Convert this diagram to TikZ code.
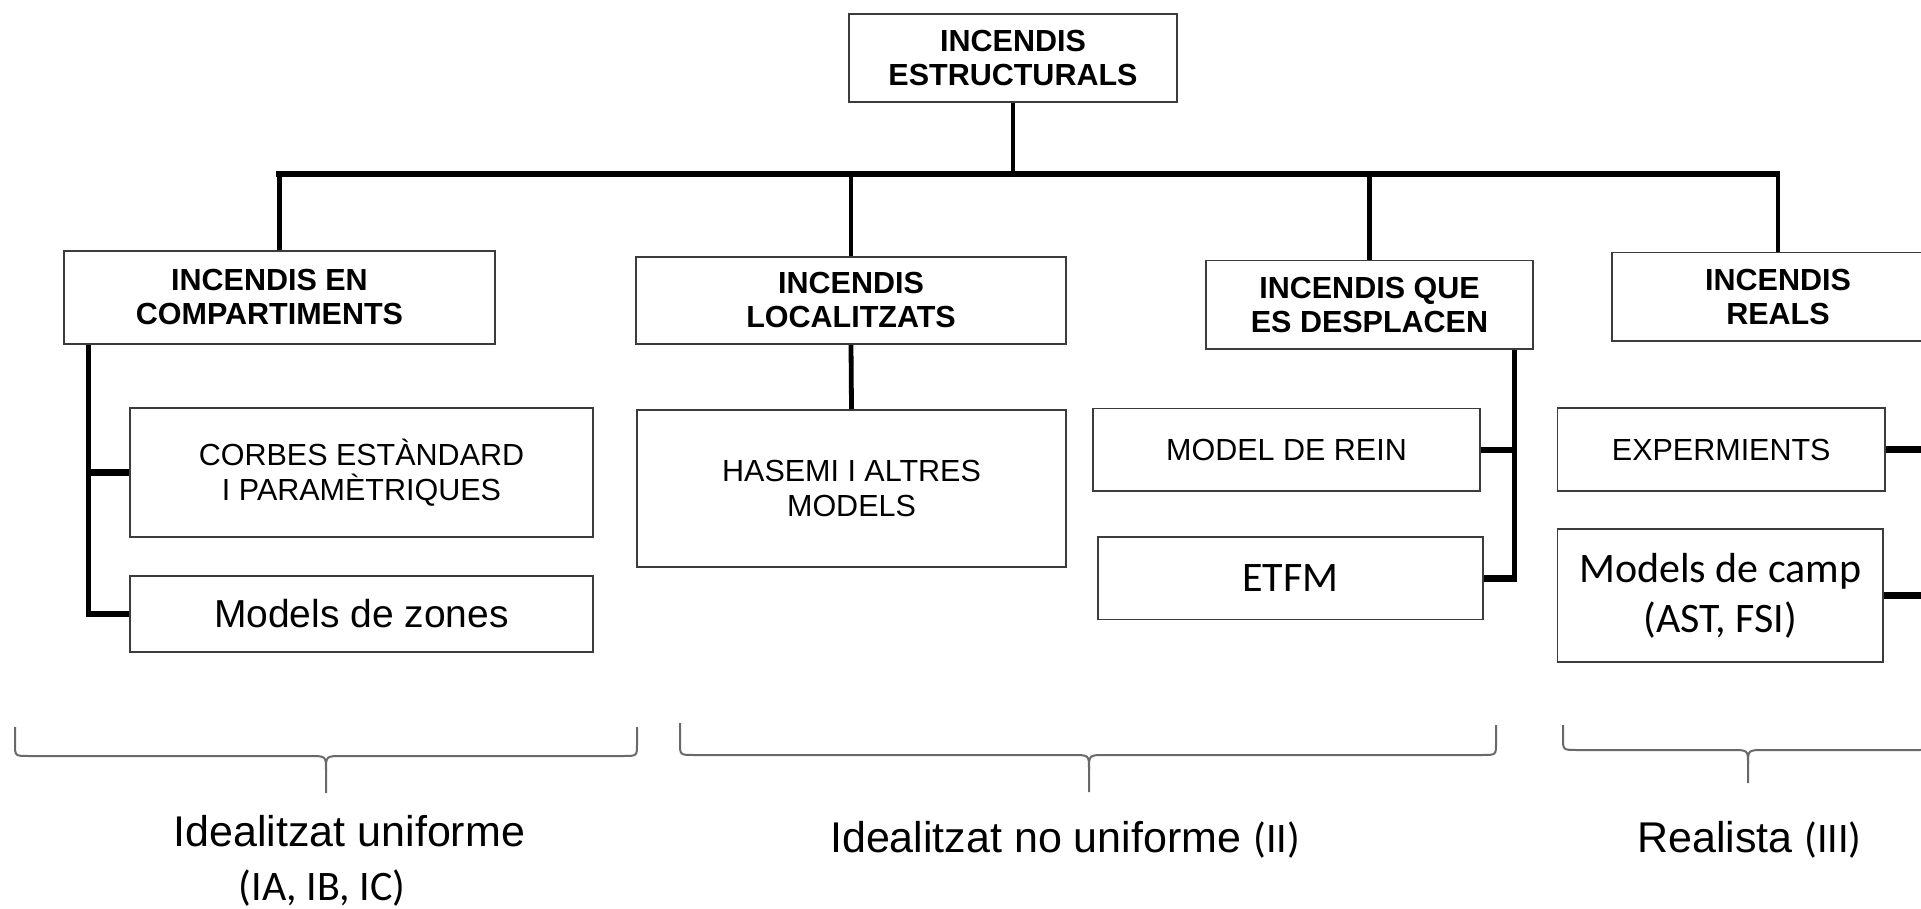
\documentclass[tikz,border=0pt]{standalone}
\usepackage{fontspec}
\setmainfont{Liberation Sans}
\newfontfamily\calfont{Carlito}
\usetikzlibrary{calc}
\definecolor{boxgray}{RGB}{60,60,60}
\definecolor{bracegray}{RGB}{105,105,105}
\begin{document}
\begin{tikzpicture}[x=1pt,y=-1pt,
  box/.style={draw=boxgray, line width=1.6pt, fill=white, inner sep=0pt, align=center},
  hdr/.style={box, font=\fontsize{30.5}{34}\selectfont\bfseries},
  regbox/.style={box, font=\fontsize{30.5}{35}\selectfont},
  calbox/.style={box, font=\fontsize{42}{50}\selectfont\calfont},
  conn/.style={line width=4.8pt},
  branch/.style={line width=6.5pt},
  bracestyle/.style={draw=bracegray, line width=2pt},
  lbl/.style={inner sep=0pt, anchor=base west, font=\fontsize{43}{50}\selectfont}]
\useasboundingbox (0,0) rectangle (1921,909);
\clip (0,0) rectangle (1921,909);

% top level
\node[hdr, minimum width=328pt, minimum height=88pt] (top) at (1013,58) {INCENDIS\\ESTRUCTURALS};

% second level
\node[hdr, minimum width=431pt, minimum height=93pt] (b1) at (279.5,297.5) {INCENDIS EN\hspace*{20pt}\\COMPARTIMENTS\hspace*{20pt}};
\node[hdr, minimum width=430pt, minimum height=87pt] (b2) at (851,300.5) {INCENDIS\\LOCALITZATS};
\node[hdr, minimum width=327pt, minimum height=88.5pt] (b3) at (1369.5,304.75) {INCENDIS QUE\\ES DESPLACEN};
\node[hdr, minimum width=332pt, minimum height=88pt] (b4) at (1778,296.7) {INCENDIS\\REALS};

% third level
\node[regbox, minimum width=463pt, minimum height=129pt] (c1) at (361.5,472.5) {CORBES ESTÀNDARD\\I PARAMÈTRIQUES};
\node[box, font=\fontsize{39}{45}\selectfont, minimum width=463pt, minimum height=76pt] (c2) at (361.5,614) {Models de zones};
\node[regbox, minimum width=429pt, minimum height=157pt] (h1) at (851.5,488.5) {HASEMI I ALTRES\\MODELS};
\node[regbox, minimum width=387pt, minimum height=82.5pt] (rein) at (1286.5,449.75) {MODEL DE REIN};
\node[calbox, minimum width=385pt, minimum height=82.5pt] (etfm) at (1290.5,578.25) {ETFM};
\node[regbox, minimum width=327.5pt, minimum height=83pt] (exp) at (1721.25,449.5) {EXPERMIENTS};
\node[calbox, minimum width=325.5pt, minimum height=132.7pt] (camp) at (1720.25,595.35) {Models de camp\\(AST, FSI)};

% bus
\coordinate (busL) at (279,174);
\coordinate (busR) at (1775,174);
\draw[line width=5.5pt, line cap=rect] (busL) -- (busR);
\draw[conn] (top.south) -- (top.south |- busL);
\draw[conn] (b1.north) -- ([yshift=2.75pt]b1.north |- busL);
\draw[conn] (b2.north) -- ([yshift=2.75pt]b2.north |- busL);
\draw[conn] (b3.north) -- ([yshift=2.75pt]b3.north |- busL);
\draw[conn] (b4.north) -- ([yshift=2.75pt]b4.north |- busL);

% compartiments
\coordinate (t1) at ($(b1.south west)+(25,0)$);
\draw[conn] (t1) -- ([yshift=-3.25pt]t1 |- c2.west);
\draw[branch] ([xshift=-2.4pt]c1.west -| t1) -- (c1.west);
\draw[branch] ([xshift=-2.4pt]c2.west -| t1) -- (c2.west);

% localitzats
\draw[conn] (b2.south) -- (h1.north);

% desplacen
\coordinate (t3) at ($(b3.south east)+(-19,0)$);
\draw[conn] (t3) -- ([yshift=-3.25pt]t3 |- etfm.east);
\draw[branch] (rein.east) -- ([xshift=2.4pt]rein.east -| t3);
\draw[branch] (etfm.east) -- ([xshift=2.4pt]etfm.east -| t3);

% reals
\coordinate (t4) at ($(b4.south east)+(-19,0)$);
\draw[conn] (t4) -- ([yshift=-3.25pt]t4 |- camp.east);
\draw[branch] (exp.east) -- ([xshift=2.4pt]exp.east -| t4);
\draw[branch] (camp.east) -- ([xshift=2.4pt]camp.east -| t4);

% braces
\draw[bracestyle] (15,727) -- (15,744) .. controls (15,756) .. (29,756) -- (309,756)
  .. controls (326,756) .. (326,770) -- (326,793);
\draw[bracestyle] (637,727) -- (637,744) .. controls (637,756) .. (623,756) -- (343,756)
  .. controls (326,756) .. (326,770);
\draw[bracestyle] (680,723) -- (680,743) .. controls (680,755) .. (694,755) -- (1072,755)
  .. controls (1089,755) .. (1089,769) -- (1089,792);
\draw[bracestyle] (1496,725) -- (1496,743) .. controls (1496,755) .. (1482,755) -- (1106,755)
  .. controls (1089,755) .. (1089,769);
\draw[bracestyle] (1563,725) -- (1563,738) .. controls (1563,750) .. (1577,750) -- (1731,750)
  .. controls (1748,750) .. (1748,764) -- (1748,783);
\draw[bracestyle] (1933,725) -- (1933,738) .. controls (1933,750) .. (1919,750) -- (1765,750)
  .. controls (1748,750) .. (1748,764);

% labels
\node[lbl, anchor=base] (l1) at (349.4,846.7) {Idealitzat uniforme};
\node[lbl, anchor=base, font=\fontsize{42}{50}\selectfont\calfont] (l1b) at (322,900) {(IA, IB, IC)};
\node[lbl] (l2) at (830,852) {Idealitzat no uniforme {\fontsize{42}{50}\calfont (II)}};
\node[lbl] (l3) at (1637,852) {Realista {\fontsize{42}{50}\calfont (III)}};
\end{tikzpicture}
\end{document}
